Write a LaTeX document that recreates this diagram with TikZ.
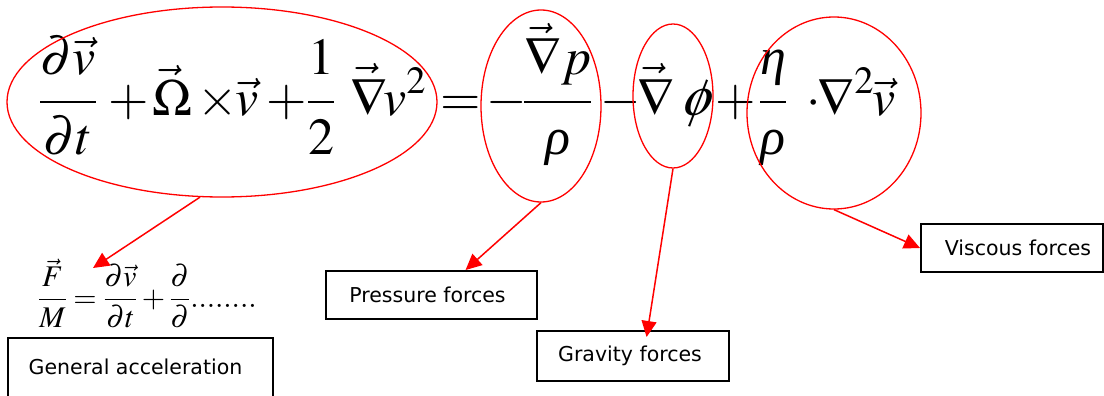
\documentclass[tikz,border=0pt]{standalone}
\usepackage{mathptmx}
\usepackage{fontspec}
\newfontfamily\lab{DejaVu Sans}
\newfontfamily\tms{Liberation Serif}
\usetikzlibrary{shapes.geometric,arrows.meta,calc}
\newcommand{\upnum}[1]{\raisebox{5pt}{$\displaystyle #1$}}
\newcommand{\dnden}[1]{\raisebox{-4pt}{$\displaystyle #1$}}
\newcommand{\gk}[1]{\mbox{\tms\itshape #1}}
\tikzset{
  hl/.style={draw=red, line width=1.3pt, ellipse, inner sep=0pt},
  lbl/.style={draw=black, line width=2pt, font=\lab\fontsize{20.5}{24}\selectfont, inner sep=0pt},
  pointer/.style={draw=red, line width=1.5pt, -{Triangle[length=16pt,width=15pt]}},
  eqn/.style={inner sep=0pt, font=\fontsize{52}{60}\selectfont, anchor=base west},
  smalleqn/.style={inner sep=0pt, font=\fontsize{30}{36}\selectfont},
}
\begin{document}
\begin{tikzpicture}[x=1pt,y=-1pt]
\useasboundingbox (0,0) rectangle (1104,396);
\clip (0,0) rectangle (1104,396);
% equation, piece by piece
\foreach \px/\piece [count=\i] in {
  39/{\frac{\upnum{\partial\vec{v}}}{\dnden{\partial t}}},
  108/{+},
  152/{\vec{\Omega}},
  197/{\times},
  235/{\vec{v}},
  266/{+},
  307/{\frac{\upnum{1}}{\dnden{2}}},
  350/{\vec{\nabla}},
  383/{v^{2}},
  440/{=},
  486/{-},
  523/{\frac{\upnum{\vec{\nabla}p}}{\dnden{\gk{ρ}}}},
  600/{-},
  637/{\vec{\nabla}},
  715/{+},
  759/{\frac{\upnum{\gk{η}}}{\dnden{\gk{ρ}}}},
  806/{\cdot},
  817/{\nabla^{2}},
  872/{\vec{v}}}
  \node[eqn] (t\i) at (\px,115) {$\displaystyle \piece$};
\node[eqn, xslant=0.22, transform shape] (phi) at (680,115) {$\phi$};
% highlight ellipses
\node[hl, minimum width=430pt, minimum height=190pt] (e1) at (222,102) {};
\node[hl, minimum width=120pt, minimum height=192pt] (e2) at (541,106) {};
\node[hl, minimum width=80pt, minimum height=144pt] (e3) at (673,96) {};
\node[hl, minimum width=174pt, minimum height=192pt] (e4) at (834,113) {};
% small equation
\node[smalleqn, anchor=base west] (feq) at (38,307)
  {$\displaystyle \frac{\vec{F}}{M}=\frac{\partial\vec{v}}{\partial t}+\frac{\partial}{\partial}........$};
\coordinate (acc) at (93,268);
% label boxes
\node[lbl, minimum width=265pt, minimum height=100pt, anchor=north] (gen) at (140.5,337)
  {\hspace*{-10pt}\raisebox{14pt}[0pt][0pt]{General acceleration}};
\node[lbl, minimum width=211pt, minimum height=48pt] (pbox) at (431.5,295) {\hspace*{-8pt}Pressure forces};
\node[lbl, minimum width=192pt, minimum height=50pt] (gbox) at (633,356) {\hspace*{-6pt}Gravity forces};
\node[lbl, minimum width=182pt, minimum height=48pt] (vbox) at (1012,248) {\hspace*{12pt}Viscous forces};
% pointers
\draw[pointer] (e1.257) -- (acc);
\draw[pointer] (e2.south) -- ($(pbox.north west)!0.66!(pbox.north east)$);
\draw[pointer] (e3.south) -- ($(gbox.north west)!0.57!(gbox.north east)+(0,7)$);
\draw[pointer] (e4.south) -- (vbox.west);
\end{tikzpicture}
\end{document}
